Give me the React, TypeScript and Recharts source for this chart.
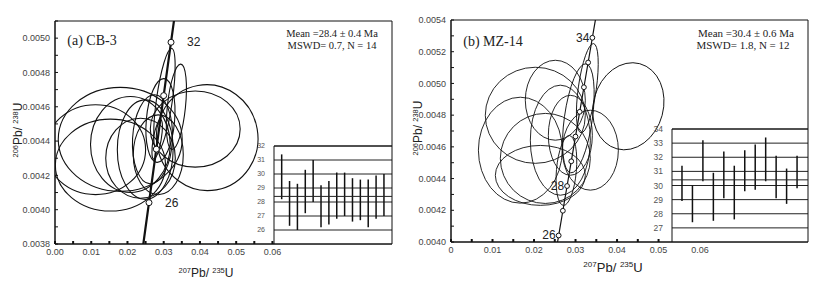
import React from 'react';
import {
    ScatterChart,
    Scatter,
    XAxis,
    YAxis,
    ReferenceArea,
    LabelList,
    ComposedChart,
    Bar,
    CartesianGrid,
    ReferenceLine,
} from 'recharts';

// ─── Data ─────────────────────────────────────────────────────────────────────

// concordia points (age in Ma, 207Pb/235U, 206Pb/238U)
const CONC_AGE = [24, 25, 26, 27, 28, 29, 30, 31, 32, 33, 34, 35, 36];
const CONC_207 = [0.023918, 0.024927, 0.025937, 0.026948, 0.02796, 0.028972, 0.029986, 0.031001, 0.032017, 0.033034, 0.034052, 0.035071, 0.03609];
const CONC_206 = [0.00373, 0.003886, 0.004041, 0.004197, 0.004353, 0.004509, 0.004665, 0.004821, 0.004976, 0.005132, 0.005288, 0.005444, 0.0056];

// error ellipses: [207/235, 206/238, half-width, half-height, tilt deg]
const ELLIPSES_A = [
    [0.0302, 0.00464, 0.0022, 0.000303, 8],
    [0.0335, 0.0046, 0.0025, 0.00025, 6],
    [0.0291, 0.00452, 0.0039, 0.000245, 5],
    [0.018, 0.00441, 0.0171, 0.000303, 0],
    [0.042, 0.00442, 0.014, 0.000309, -10],
    [0.0387, 0.00447, 0.0124, 0.000222, 0],
    [0.0112, 0.00435, 0.0138, 0.000262, 0],
    [0.0153, 0.00426, 0.0152, 0.000268, 0],
    [0.0208, 0.00438, 0.011, 0.00028, 0],
    [0.0249, 0.00435, 0.0077, 0.00029, 0],
    [0.0269, 0.00441, 0.0055, 0.00026, 3],
    [0.0236, 0.0043, 0.0096, 0.000233, 0],
    [0.0285, 0.00432, 0.0069, 0.000233, 0],
    [0.0282, 0.00441, 0.0011, 0.000117, 10],
];
const ELLIPSES_B = [
    [0.03284, 0.00497, 0.00217, 0.000284, 8],
    [0.03068, 0.00478, 0.00337, 0.000347, 8],
    [0.04272, 0.004856, 0.00843, 0.000278, 15],
    [0.02031, 0.004799, 0.01205, 0.000303, 0],
    [0.0167, 0.004579, 0.0101, 0.000334, 0],
    [0.02272, 0.004527, 0.01084, 0.000284, 0],
    [0.02634, 0.004642, 0.00723, 0.000347, 0],
    [0.02513, 0.004894, 0.00723, 0.000252, 0],
    [0.02875, 0.004673, 0.0053, 0.000252, 0],
    [0.03357, 0.004579, 0.00675, 0.000252, 0],
    [0.02152, 0.00442, 0.01084, 0.000189, 0],
    [0.0278, 0.004451, 0.0024, 0.000221, 5],
];

// marked ages on the concordia and which of them get a label
const MARK_AGES_A = [26, 28, 30, 32];
const LABEL_AGES_A = [26, 32];
const MARK_AGES_B = [26, 27, 28, 29, 30, 31, 32, 33, 34];
const LABEL_AGES_B = [26, 28, 34];

// axis ticks
const X_TICKS_A = [0, 0.005, 0.01, 0.015, 0.02, 0.025, 0.03, 0.035, 0.04, 0.045, 0.05, 0.055, 0.06];
const Y_TICKS_A = [0.0038, 0.0039, 0.004, 0.0041, 0.0042, 0.0043, 0.0044, 0.0045, 0.0046, 0.0047, 0.0048, 0.0049, 0.005, 0.0051];
const X_TICKS_B = [0, 0.005, 0.01, 0.015, 0.02, 0.025, 0.03, 0.035, 0.04, 0.045, 0.05, 0.055, 0.06];
const Y_TICKS_B = [0.004, 0.0041, 0.0042, 0.0043, 0.0044, 0.0045, 0.0046, 0.0047, 0.0048, 0.0049, 0.005, 0.0051, 0.0052, 0.0053, 0.0054];

// weighted-mean inset: 206Pb/238U ages (Ma), 1σ ranges
const LOW_A = [28.2, 26.3, 26.0, 27.2, 28.0, 26.2, 26.4, 26.8, 27.0, 26.6, 26.7, 26.2, 26.8, 27.0];
const HIGH_A = [31.4, 29.5, 29.3, 30.3, 31.0, 29.2, 29.5, 30.1, 30.1, 29.7, 29.6, 29.6, 29.9, 30.0];
const LOW_B = [28.9, 27.4, 30.3, 27.5, 29.1, 27.6, 29.6, 29.7, 30.3, 29.1, 28.7, 29.8];
const HIGH_B = [31.4, 30.0, 33.2, 30.9, 32.4, 31.4, 32.5, 32.9, 33.4, 32.1, 31.2, 32.1];
const INSET_TICKS_A = [26, 27, 28, 29, 30, 31, 32];
const INSET_TICKS_B = [27, 28, 29, 30, 31, 32, 33, 34];
const MEAN_A = 28.4;
const MEAN_B = 30.4;

// ─── Helpers ──────────────────────────────────────────────────────────────────

const toEllipses = (rows: number[][]) =>
    rows.map(([x, y, sx, sy, rot]) => ({ x, y, sx, sy, rot }));

const concordia = CONC_AGE.map((age, i) => ({ age, x: CONC_207[i], y: CONC_206[i] }));

const markers = (ages: number[], labelled: number[]) =>
    concordia
        .filter((p) => ages.includes(p.age))
        .map((p) => ({ ...p, label: labelled.includes(p.age) ? String(p.age) : '' }));

const insetRows = (low: number[], high: number[]) =>
    low.map((lo, i) => ({ i: i + 1, range: [lo, high[i]] }));

const SANS = 'Arial, "Liberation Sans", sans-serif';
const SERIF = '"Times New Roman", "Liberation Serif", serif';

// ─── Concordia panel ──────────────────────────────────────────────────────────

interface PanelProps {
    left: number;
    width: number;
    margin: { top: number; right: number; bottom: number; left: number };
    xDomain: [number, number];
    yDomain: [number, number];
    xTicks: number[];
    yTicks: number[];
    xFmt: (v: number) => string;
    ellipses: number[][];
    marks: number[];
    labels: number[];
    lineWidth: number;
    ellipseWidth: number;
    markR: number;
    labelSide: 'left' | 'right';
}

const HEIGHT = 290;
const Y_AXIS_W = 50;
const X_AXIS_H = 30;

const ConcordiaPanel: React.FC<PanelProps> = (p) => {
    const plotW = p.width - p.margin.left - p.margin.right - Y_AXIS_W;
    const plotH = HEIGHT - p.margin.top - p.margin.bottom - X_AXIS_H;
    const kx = plotW / (p.xDomain[1] - p.xDomain[0]);
    const ky = plotH / (p.yDomain[1] - p.yDomain[0]);

    const EllipseShape = (props: any) => {
        const { cx, cy, payload } = props;
        return (
            <ellipse
                cx={cx}
                cy={cy}
                rx={payload.sx * kx}
                ry={payload.sy * ky}
                transform={`rotate(${payload.rot} ${cx} ${cy})`}
                fill="none"
                stroke="#111"
                strokeWidth={p.ellipseWidth}
            />
        );
    };

    const MarkShape = (props: any) => (
        <circle cx={props.cx} cy={props.cy} r={p.markR} fill="#fff" stroke="#111" strokeWidth={1} />
    );

    // age label beside a marker
    const AgeLabel = (props: any) => {
        const { x, y, width, height, value } = props;
        if (!value) return null;
        const cx = x + (width ?? 0) / 2;
        const cy = y + (height ?? 0) / 2;
        const right = p.labelSide === 'right';
        return (
            <text
                x={right ? cx + 16 : cx - 3}
                y={cy}
                textAnchor={right ? 'start' : 'end'}
                dominantBaseline="central"
                fontSize={12}
                fontFamily={SANS}
                fill="#222"
            >
                {value}
            </text>
        );
    };

    return (
        <div style={{ position: 'absolute', left: p.left, top: 0 }}>
            <ScatterChart width={p.width} height={HEIGHT} margin={p.margin}>
                <XAxis
                    type="number"
                    dataKey="x"
                    domain={p.xDomain}
                    ticks={p.xTicks}
                    allowDataOverflow
                    interval={0}
                    tickFormatter={p.xFmt}
                    height={X_AXIS_H}
                    axisLine={{ stroke: '#111' }}
                    tickLine={{ stroke: '#111', strokeWidth: 2 }}
                    tickSize={-3}
                    tickMargin={8}
                    tick={{ fontSize: 9, fill: '#444', fontFamily: SANS }}
                />
                <YAxis
                    type="number"
                    dataKey="y"
                    domain={p.yDomain}
                    ticks={p.yTicks}
                    allowDataOverflow
                    interval={0}
                    width={Y_AXIS_W}
                    tickFormatter={(v: number) => (Math.round(v * 10000) % 2 === 0 ? v.toFixed(4) : '')}
                    axisLine={{ stroke: '#111' }}
                    tickLine={{ stroke: '#111' }}
                    tickSize={-3}
                    tickMargin={8}
                    tick={{ fontSize: 9, fill: '#444', fontFamily: SANS }}
                />
                <ReferenceArea
                    x1={p.xDomain[0]}
                    x2={p.xDomain[1]}
                    y1={p.yDomain[0]}
                    y2={p.yDomain[1]}
                    fill="none"
                    stroke="#111"
                    strokeWidth={1}
                />
                <Scatter data={toEllipses(p.ellipses)} shape={EllipseShape} isAnimationActive={false} />
                <Scatter
                    data={concordia}
                    line={{ stroke: '#111', strokeWidth: p.lineWidth }}
                    shape={() => <g />}
                    isAnimationActive={false}
                />
                <Scatter
                    data={markers(p.marks, p.labels)}
                    shape={MarkShape}
                    fill="#222"
                    isAnimationActive={false}
                >
                    <LabelList dataKey="label" content={AgeLabel} />
                </Scatter>
            </ScatterChart>
        </div>
    );
};

// ─── Weighted mean inset ──────────────────────────────────────────────────────

interface InsetProps {
    left: number;
    top: number;
    width: number;
    height: number;
    low: number[];
    high: number[];
    ticks: number[];
    yDomain: [number, number];
    xMax: number;
    mean: number;
    fontSize: number;
}

const MeanInset: React.FC<InsetProps> = (p) => (
    <div style={{ position: 'absolute', left: p.left, top: p.top }}>
        <ComposedChart
            width={p.width}
            height={p.height}
            data={insetRows(p.low, p.high)}
            margin={{ top: 6, right: 0, bottom: 0, left: 4 }}
        >
            <CartesianGrid horizontal vertical={false} stroke="#222" fill="#fff" fillOpacity={1} />
            <XAxis type="number" dataKey="i" domain={[0, p.xMax]} hide />
            <YAxis
                type="number"
                domain={p.yDomain}
                ticks={p.ticks}
                interval={0}
                allowDataOverflow
                width={20}
                axisLine={false}
                tickLine={false}
                tickMargin={3}
                tick={{ fontSize: p.fontSize, fill: '#555', fontFamily: SANS }}
            />
            <ReferenceLine y={p.mean} stroke="#222" strokeWidth={1} />
            <ReferenceArea
                x1={0}
                x2={p.xMax}
                y1={p.yDomain[0]}
                y2={p.yDomain[1]}
                fill="none"
                stroke="#111"
                strokeWidth={1}
            />
            <Bar dataKey="range" barSize={1.5} fill="#111" isAnimationActive={false} />
        </ComposedChart>
    </div>
);

// ─── Text overlays ────────────────────────────────────────────────────────────

const Txt: React.FC<{ x: number; y: number; size: number; font?: string; children: React.ReactNode; rotate?: boolean }> = ({
    x,
    y,
    size,
    font,
    children,
    rotate,
}) => (
    <div
        style={{
            position: 'absolute',
            left: x,
            top: y,
            transform: `translate(-50%, -50%)${rotate ? ' rotate(-90deg)' : ''}`,
            fontSize: size,
            fontFamily: font ?? SANS,
            color: '#222',
            whiteSpace: 'nowrap',
            lineHeight: 1,
        }}
    >
        {children}
    </div>
);

const supStyle: React.CSSProperties = { fontSize: '0.62em', verticalAlign: '0.55em' };

const RatioLabel: React.FC<{ a: string; b: string; c: string; d: string }> = ({ a, b, c, d }) => (
    <span>
        <sup style={supStyle}>{a}</sup>
        {b}/ <sup style={supStyle}>{c}</sup>
        {d}
    </span>
);

// ─── App ──────────────────────────────────────────────────────────────────────

export default function App() {
    return (
        <div style={{ position: 'absolute', left: 0, top: 0, width: 818, height: 290, background: '#fff', overflow: 'hidden' }}>
            <ConcordiaPanel
                left={0}
                width={400}
                margin={{ top: 21, right: 8, bottom: 16, left: 5 }}
                xDomain={[0, 0.093]}
                yDomain={[0.0038, 0.0051]}
                xTicks={X_TICKS_A}
                yTicks={Y_TICKS_A}
                xFmt={(v) => (Math.round(v * 1000) % 10 === 0 ? v.toFixed(2) : '')}
                ellipses={ELLIPSES_A}
                marks={MARK_AGES_A}
                labels={LABEL_AGES_A}
                lineWidth={2.2}
                ellipseWidth={1.1}
                markR={3}
                labelSide="right"
            />
            <ConcordiaPanel
                left={400}
                width={418}
                margin={{ top: 20, right: 10, bottom: 18, left: 1 }}
                xDomain={[0, 0.086]}
                yDomain={[0.004, 0.0054]}
                xTicks={X_TICKS_B}
                yTicks={Y_TICKS_B}
                xFmt={(v) => (v === 0 ? '0' : Math.round(v * 1000) % 10 === 0 ? v.toFixed(2) : '')}
                ellipses={ELLIPSES_B}
                marks={MARK_AGES_B}
                labels={LABEL_AGES_B}
                lineWidth={1.2}
                ellipseWidth={0.9}
                markR={2.4}
                labelSide="left"
            />

            <MeanInset
                left={250}
                top={140}
                width={142}
                height={104}
                low={LOW_A}
                high={HIGH_A}
                ticks={INSET_TICKS_A}
                yDomain={[25, 32]}
                xMax={15}
                mean={MEAN_A}
                fontSize={7}
            />
            <MeanInset
                left={648}
                top={123}
                width={160}
                height={119}
                low={LOW_B}
                high={HIGH_B}
                ticks={INSET_TICKS_B}
                yDomain={[26, 34]}
                xMax={13}
                mean={MEAN_B}
                fontSize={8.5}
            />

            {/* panel titles and statistics */}
            <Txt x={92} y={41} size={14} font={SERIF}>(a) CB-3</Txt>
            <Txt x={332} y={34} size={10.5} font={SERIF}>Mean =28.4 ±  0.4 Ma</Txt>
            <Txt x={332} y={46} size={10.5} font={SERIF}>MSWD= 0.7, N = 14</Txt>
            <Txt x={493} y={42} size={14} font={SERIF}>(b) MZ-14</Txt>
            <Txt x={746} y={33} size={11} font={SERIF}>Mean  =30.4 ± 0.6 Ma</Txt>
            <Txt x={743} y={45} size={11} font={SERIF}>MSWD= 1.8, N = 12</Txt>

            {/* axis titles */}
            <Txt x={18} y={130} size={12} rotate>
                <RatioLabel a="206" b="Pb" c="238" d="U" />
            </Txt>
            <Txt x={206} y={273} size={12}>
                <RatioLabel a="207" b="Pb" c="235" d="U" />
            </Txt>
            <Txt x={418} y={128} size={12} rotate>
                <RatioLabel a="206" b="Pb" c="238" d="U" />
            </Txt>
            <Txt x={613} y={267} size={13}>
                <RatioLabel a="207" b="Pb" c="235" d="U" />
            </Txt>
        </div>
    );
}
